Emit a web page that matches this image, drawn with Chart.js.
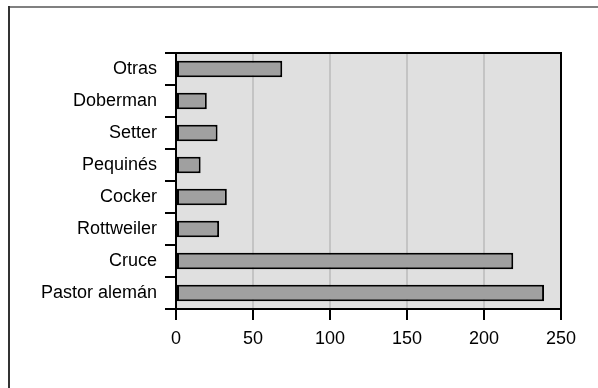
<!DOCTYPE html>
<html>
<head>
<meta charset="utf-8">
<script src="https://cdn.jsdelivr.net/npm/chart.js@4/dist/chart.umd.min.js"></script>
<style>
  html, body { margin: 0; padding: 0; background: #fff; }
  #wrap { width: 598px; height: 388px; position: relative; }
</style>
</head>
<body>
<div id="wrap"><canvas id="myChart" width="598" height="388"></canvas></div>
<script>
let razas = ["Otras", "Doberman", "Setter", "Pequinés", "Cocker", "Rottweiler", "Cruce", "Pastor alemán"];
let cantidades = [69, 20, 27, 16, 33, 28, 219, 239];
let xTicks = [0, 50, 100, 150, 200, 250];

// frame + grey plot background + top/right border
const fondo = {
  id: 'fondo',
  beforeDraw(chart) {
    const c = chart.ctx, a = chart.chartArea;
    c.save();
    c.fillStyle = '#e0e0e0';
    c.fillRect(a.left, a.top, a.right - a.left, a.bottom - a.top);
    c.lineWidth = 2;
    c.strokeStyle = '#808080';
    c.beginPath(); c.moveTo(9, 7); c.lineTo(598, 7); c.stroke();
    c.strokeStyle = '#333';
    c.beginPath(); c.moveTo(9, 6); c.lineTo(9, 388); c.stroke();
    c.restore();
  },
  afterDraw(chart) {
    const c = chart.ctx, a = chart.chartArea;
    c.save();
    c.lineWidth = 2;
    c.strokeStyle = '#000';
    c.beginPath();
    c.moveTo(165, a.top); c.lineTo(a.right, a.top); c.lineTo(a.right, a.bottom);
    c.stroke();
    c.restore();
  }
};

let ctx = document.getElementById('myChart').getContext('2d');

const myChart = new Chart(ctx, {
  type: 'bar',
  data: {
    labels: razas,
    datasets: [{
      data: cantidades,
      backgroundColor: '#a0a0a0',
      borderColor: '#000',
      borderWidth: 2,
      borderSkipped: false,
      categoryPercentage: 1,
      barPercentage: 0.51
    }]
  },
  plugins: [fondo],
  options: {
    indexAxis: 'y',
    responsive: false,
    animation: false,
    layout: { padding: { left: 0, top: 53, right: 37, bottom: 0 } },
    plugins: { legend: { display: false }, tooltip: { enabled: false } },
    scales: {
      x: {
        min: 0, max: 250,
        afterBuildTicks: (s) => { s.ticks = xTicks.map(v => ({ value: v })); },
        afterFit: (s) => { s.height = 79; },
        border: { color: '#000', width: 2 },
        grid: {
          color: (g) => (g.tick && (g.tick.value === 0 || g.tick.value === 250)) ? 'rgba(0,0,0,0)' : '#c4c4c4',
          lineWidth: 2,
          tickColor: '#000',
          tickWidth: 2,
          tickLength: 11
        },
        ticks: { color: '#000', padding: 8, font: { family: "'Liberation Sans', Arial, sans-serif", size: 18 } }
      },
      y: {
        afterFit: (s) => { s.width = 176; },
        border: { color: '#000', width: 2 },
        grid: {
          offset: true,
          drawOnChartArea: false,
          color: '#000',
          tickColor: '#000',
          tickWidth: 2,
          lineWidth: 2,
          tickLength: 11
        },
        ticks: { color: '#000', padding: 8, font: { family: "'Liberation Sans', Arial, sans-serif", size: 18 } }
      }
    }
  }
});
</script>
</body>
</html>
